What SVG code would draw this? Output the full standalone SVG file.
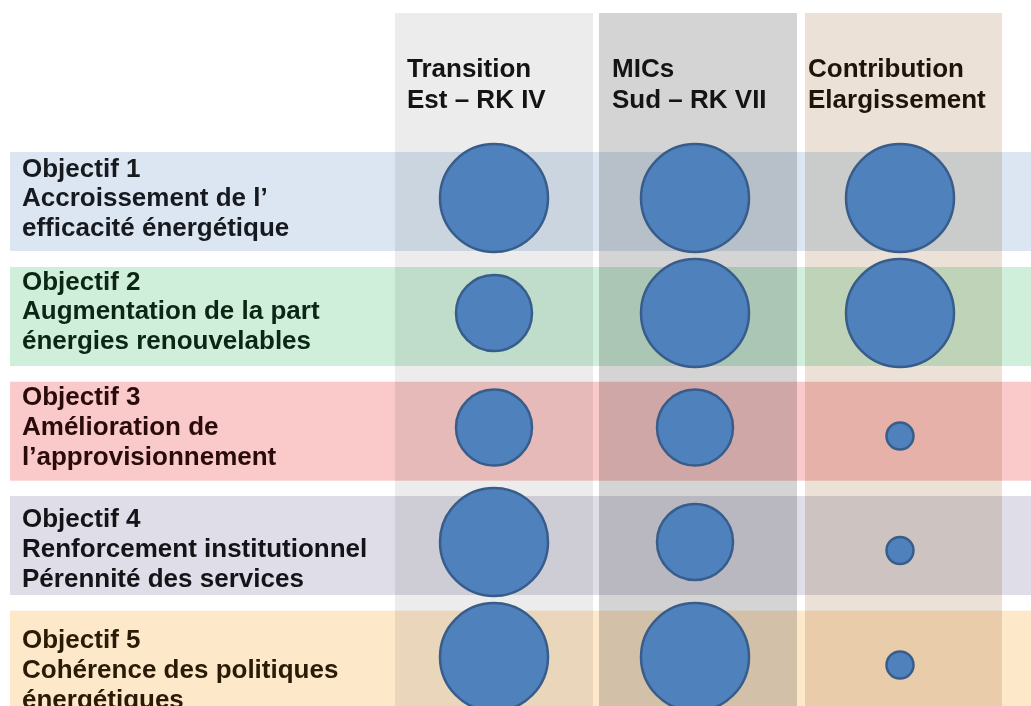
<svg xmlns="http://www.w3.org/2000/svg" width="1031" height="706" viewBox="0 0 1031 706">
<style>
  .hdr { font-family: "Liberation Sans", Arial, sans-serif; font-weight: bold; font-size: 26px; fill: #141414; }
  .lbl { font-family: "Liberation Sans", Arial, sans-serif; font-weight: bold; font-size: 26px; }
  .band { mix-blend-mode: multiply; }
  .dot { fill: #4f81bd; stroke: #385d8a; stroke-width: 2.5; }
</style>
<rect x="0" y="0" width="1031" height="706" fill="#ffffff"/>
<g id="columns">
  <g id="col-transition">
    <rect x="395" y="13" width="198" height="693" fill="#ececec"/>
    <text class="hdr" x="407" y="77">Transition</text>
    <text class="hdr" x="407" y="108">Est – RK IV</text>
  </g>
  <g id="col-mics">
    <rect x="599" y="13" width="198" height="693" fill="#d4d4d4"/>
    <text class="hdr" x="612" y="77">MICs</text>
    <text class="hdr" x="612" y="108">Sud – RK VII</text>
  </g>
  <g id="col-contribution">
    <rect x="805" y="13" width="197" height="693" fill="#ebe1d6"/>
    <text class="hdr" x="808" y="77" style="fill:#1e1408">Contribution</text>
    <text class="hdr" x="808" y="108" style="fill:#1e1408">Elargissement</text>
  </g>
</g>
<g id="rows">
  <g id="row-1">
    <rect class="band" x="10" y="152" width="1021" height="99" fill="#dce6f2"/>
    <text class="lbl" x="22" y="176.5" fill="#161a1f">Objectif 1</text>
    <text class="lbl" x="22" y="206" fill="#161a1f">Accroissement de l’</text>
    <text class="lbl" x="22" y="235.5" fill="#161a1f">efficacité énergétique</text>
  </g>
  <g id="row-2">
    <rect class="band" x="10" y="267" width="1021" height="99" fill="#cfefdb"/>
    <text class="lbl" x="22" y="289.5" fill="#0c2616">Objectif 2</text>
    <text class="lbl" x="22" y="319" fill="#0c2616">Augmentation de la part</text>
    <text class="lbl" x="22" y="348.5" fill="#0c2616">énergies renouvelables</text>
  </g>
  <g id="row-3">
    <rect class="band" x="10" y="381.7" width="1021" height="99" fill="#fac9c9"/>
    <text class="lbl" x="22" y="405" fill="#2a0b0b">Objectif 3</text>
    <text class="lbl" x="22" y="435" fill="#2a0b0b">Amélioration de</text>
    <text class="lbl" x="22" y="465" fill="#2a0b0b">l’approvisionnement</text>
  </g>
  <g id="row-4">
    <rect class="band" x="10" y="496" width="1021" height="99" fill="#dfdee8"/>
    <text class="lbl" x="22" y="526.7" fill="#141418">Objectif 4</text>
    <text class="lbl" x="22" y="556.7" fill="#141418">Renforcement institutionnel</text>
    <text class="lbl" x="22" y="586.7" fill="#141418">Pérennité des services</text>
  </g>
  <g id="row-5">
    <rect class="band" x="10" y="610.7" width="1021" height="96" fill="#fde8ca"/>
    <text class="lbl" x="22" y="648.3" fill="#2a1a06">Objectif 5</text>
    <text class="lbl" x="22" y="678.3" fill="#2a1a06">Cohérence des politiques</text>
    <text class="lbl" x="22" y="707.5" fill="#2a1a06">énergétiques</text>
  </g>
</g>
<g id="markers">
  <circle id="r1c1" class="dot" cx="494" cy="198" r="54"/>
  <circle id="r1c2" class="dot" cx="695" cy="198" r="54"/>
  <circle id="r1c3" class="dot" cx="900" cy="198" r="54"/>
  <circle id="r2c1" class="dot" cx="494" cy="313" r="38"/>
  <circle id="r2c2" class="dot" cx="695" cy="313" r="54"/>
  <circle id="r2c3" class="dot" cx="900" cy="313" r="54"/>
  <circle id="r3c1" class="dot" cx="494" cy="427.5" r="38"/>
  <circle id="r3c2" class="dot" cx="695" cy="427.5" r="38"/>
  <circle id="r3c3" class="dot" cx="900" cy="436" r="13.5"/>
  <circle id="r4c1" class="dot" cx="494" cy="542" r="54"/>
  <circle id="r4c2" class="dot" cx="695" cy="542" r="38"/>
  <circle id="r4c3" class="dot" cx="900" cy="550.5" r="13.5"/>
  <circle id="r5c1" class="dot" cx="494" cy="657" r="54"/>
  <circle id="r5c2" class="dot" cx="695" cy="657" r="54"/>
  <circle id="r5c3" class="dot" cx="900" cy="665" r="13.5"/>
</g>
<g id="connectors"/>
</svg>
